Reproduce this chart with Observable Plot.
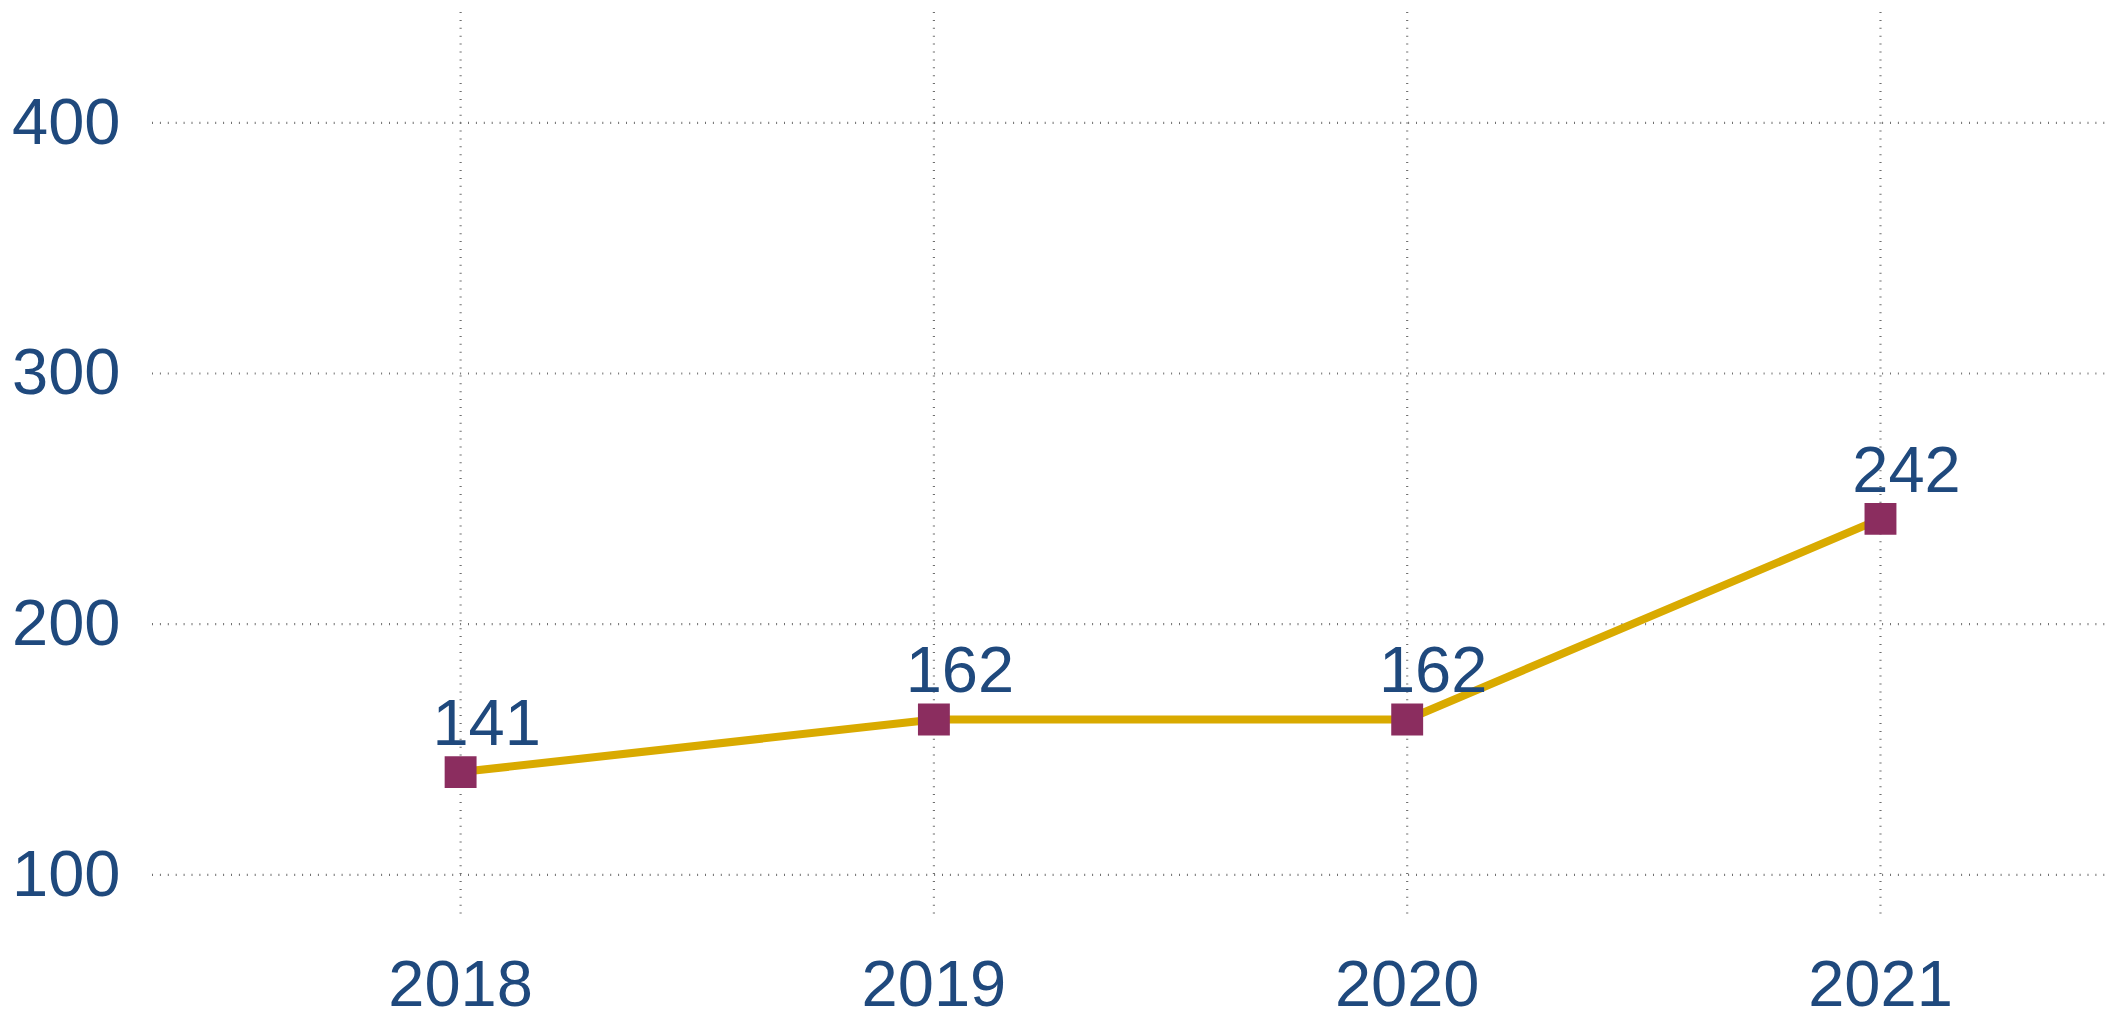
<!DOCTYPE html>
<html>
<head>
<meta charset="utf-8">
<script src="https://cdn.jsdelivr.net/npm/d3@7"></script>
<script src="https://cdn.jsdelivr.net/npm/@observablehq/plot@0.6"></script>
<style>
  html, body { margin: 0; padding: 0; background: #fff; }
</style>
</head>
<body>
<div id="chart"></div>
<script>
const years = [2018, 2019, 2020, 2021];
const values = [141, 162, 162, 242];
const yTicks = [100, 200, 300, 400];

const data = years.map((y, i) => ({year: y, value: values[i]}));

const textColor = "#1F497D";
const gridStyle = {stroke: "#707070", strokeWidth: 2.2, strokeDasharray: "1 6.9"};

const chart = Plot.plot({
  width: 2110,
  height: 1011,
  marginLeft: 152,
  marginRight: 0,
  marginTop: 12,
  marginBottom: 94,
  style: {fontFamily: "'Liberation Sans', Arial, sans-serif", fontSize: "65px", color: textColor, background: "#fff"},
  x: {type: "linear", domain: [2017.349, 2021.486]},
  y: {domain: [83, 444]},
  marks: [
    Plot.ruleY(yTicks, {...gridStyle}),
    Plot.ruleX(years, {...gridStyle}),
    Plot.axisY({ticks: yTicks, tickSize: 0, tickPadding: 32, fontSize: 65, label: null, tickFormat: d => String(d)}),
    Plot.axisX({ticks: years, tickSize: 0, tickPadding: 42, fontSize: 65, label: null, tickFormat: d => String(d)}),
    Plot.line(data, {x: "year", y: "value", stroke: "#D9AA00", strokeWidth: 8}),
    Plot.dot(data, {x: "year", y: "value", symbol: "square", r: 18, fill: "#8B2D5F", stroke: "none"}),
    Plot.text(data, {x: "year", y: "value", text: d => String(d.value), dx: 26, dy: -27, lineAnchor: "bottom", textAnchor: "middle", fill: textColor, fontSize: 65})
  ]
});
document.getElementById("chart").appendChild(chart);
</script>
</body>
</html>
